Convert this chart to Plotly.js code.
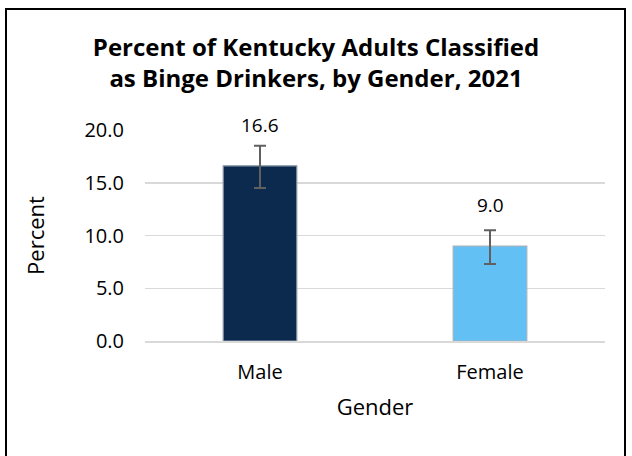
<!DOCTYPE html>
<html>
<head>
<meta charset="utf-8">
<script src="https://cdn.plot.ly/plotly-3.0.1.min.js"></script>
<style>
html,body{margin:0;padding:0;background:#fff;}
#wrap{position:relative;width:632px;height:456px;}
#chart{position:absolute;left:0;top:0;width:632px;height:456px;}
#frame{position:absolute;left:5px;top:8px;width:621px;height:452px;border:2px solid #000;pointer-events:none;box-sizing:border-box;}
</style>
</head>
<body>
<div id="wrap"><div id="chart"></div><div id="frame"></div></div>
<script>
var categories = ["Male", "Female"];
var percentValues = [16.6, 9.0];
var upperCI = [18.5, 10.5];
var lowerCI = [14.5, 7.3];
var valueLabels = ["16.6", "9.0"];
var yTickVals = [0, 5, 10, 15, 20];
var yTickText = ["0.0", "5.0", "10.0", "15.0", "20.0"];

var errPlus = percentValues.map(function(v, i){ return +(upperCI[i] - v).toFixed(2); });
var errMinus = percentValues.map(function(v, i){ return +(v - lowerCI[i]).toFixed(2); });

var font = "Open Sans, Noto Sans, sans-serif";

var trace = {
  type: "bar",
  x: categories,
  y: percentValues,
  marker: {
    color: ["#0b2a4d", "#63c0f5"],
    line: {color: ["#8a99a8", "#9fb3c0"], width: 1.2}
  },
  error_y: {
    type: "data", symmetric: false,
    array: errPlus, arrayminus: errMinus,
    color: "#606060", thickness: 2, width: 6
  },
  hoverinfo: "none"
};

var annotations = categories.map(function(c, i){
  return {x: c, y: percentValues[i], text: valueLabels[i], showarrow: false,
    yanchor: "bottom", yshift: 26, font: {family: font, size: 19, color: "#000"}};
});

var layout = {
  width: 632, height: 456,
  margin: {l: 145, r: 27, t: 130, b: 115},
  paper_bgcolor: "#fff", plot_bgcolor: "#fff",
  showlegend: false,
  bargap: 0.68,
  title: {
    text: "<b>Percent of Kentucky Adults Classified<br>as Binge Drinkers, by Gender, 2021</b>",
    x: 0.5, xref: "container", xanchor: "center",
    y: 1 - 56/456, yref: "container", yanchor: "top",
    font: {family: font, size: 24, color: "#000"}
  },
  xaxis: {
    type: "category",
    showline: true, linecolor: "#d9d9d9", linewidth: 1.5,
    ticks: "", ticklabelstandoff: 12,
    tickfont: {family: font, size: 20, color: "#000"},
    title: {text: "Gender", font: {family: font, size: 22, color: "#000"}, standoff: 16}
  },
  yaxis: {
    range: [0, 20], tickvals: yTickVals, ticktext: yTickText,
    showgrid: true, gridcolor: "#d9d9d9", gridwidth: 1.5,
    zeroline: false, showline: false, ticks: "", ticklabelstandoff: 20,
    tickfont: {family: font, size: 20, color: "#000"},
    title: {text: "Percent", font: {family: font, size: 22, color: "#000"}, standoff: 33}
  },
  annotations: annotations
};

Plotly.newPlot("chart", [trace], layout, {displayModeBar: false, staticPlot: true});
</script>
</body>
</html>
